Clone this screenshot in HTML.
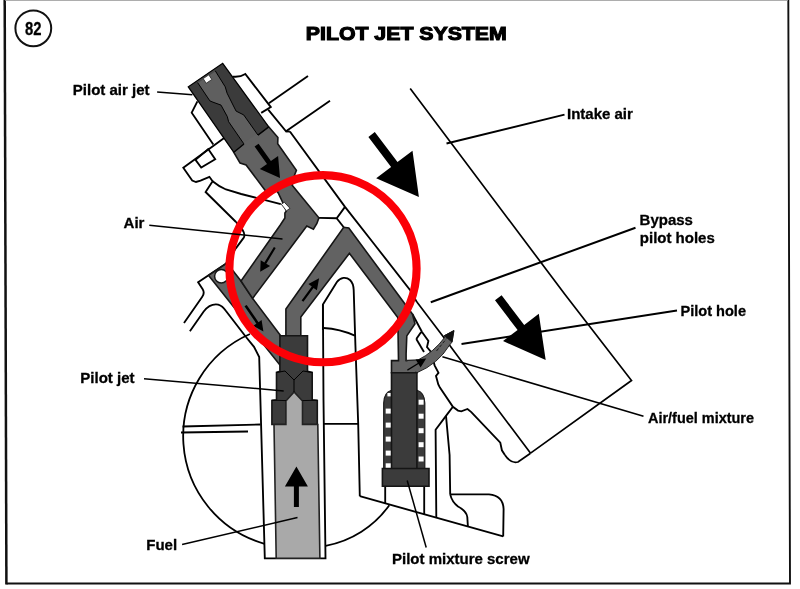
<!DOCTYPE html>
<html lang="en"><head><meta charset="utf-8"><title>Pilot Jet System</title>
<style>
html,body{margin:0;padding:0;background:#fff;}
body{width:800px;height:589px;overflow:hidden;}
svg{display:block;will-change:transform;}
svg text{font-family:"Liberation Sans",sans-serif;font-weight:bold;fill:#000;stroke:#000;stroke-width:0.3px;}
</style></head><body>
<svg width="800" height="589" viewBox="0 0 800 589">
<rect width="800" height="589" fill="#fff"/>
<path d="M6.5,583.5 L790.0,583.5 L788.3,-2.0" fill="none" stroke="#111" stroke-width="1.9" stroke-linejoin="miter" />
<path d="M4.7,-2.0 L6.4,584.4" fill="none" stroke="#111" stroke-width="2.5" stroke-linejoin="miter" />
<line x1="5" y1="0.3" x2="788" y2="0.3" stroke="#999" stroke-width="1"/>
<circle cx="33.3" cy="28.3" r="17.9" fill="#fff" stroke="#111" stroke-width="2"/>
<text x="33.3" y="35" font-size="19" text-anchor="middle" textLength="16.5" lengthAdjust="spacingAndGlyphs">82</text>
<text x="305.8" y="40.2" font-size="19" textLength="201" lengthAdjust="spacingAndGlyphs" style="stroke-width:1.1px">PILOT JET SYSTEM</text>
<path d="M250,334 A111.7,111.7 0 0 0 264.6,543.8" fill="none" stroke="#000" stroke-width="1.8"/>
<path d="M325.6,545.8 A100.5,100.5 0 0 0 389.3,505.2" fill="none" stroke="#000" stroke-width="1.8"/>
<path d="M322.9,330 L322.9,304.4 L336.9,282.1 C340.5,276.8 346.5,276.8 350,280 C352.6,282.4 353.5,285.5 353.7,290 L355.4,345 L358.2,424 L359.8,496.2 L322.9,496.9 Z" fill="#fff" stroke="none"/>
<path d="M322.9,330 L322.9,304.4 L336.9,282.1 C340.5,276.8 346.5,276.8 350,280 C352.6,282.4 353.5,285.5 353.7,290 L355.4,345 L358.2,424 L359.8,496.2" fill="none" stroke="#000" stroke-width="1.85"/>
<path d="M323.6,328 Q340,329 354.8,335.6" fill="none" stroke="#000" stroke-width="1.85"/>
<path d="M323.5,423.9 L358.2,423.9" fill="none" stroke="#000" stroke-width="1.85" stroke-linejoin="miter" />
<path d="M246.0,337.0 L254.0,346.8 L259.2,357.0 L260.4,400.0 L264.8,558.3 L325.5,558.3 L323.5,400.0 L322.9,304.4" fill="none" stroke="#000" stroke-width="1.85" stroke-linejoin="miter" />
<path d="M182.5,426.5 L260.5,424.5" fill="none" stroke="#000" stroke-width="1.85" stroke-linejoin="miter" />
<path d="M181.0,432.5 L248.0,431.5" fill="none" stroke="#000" stroke-width="1.85" stroke-linejoin="miter" />
<path d="M359.8,496.2 L503.2,536.4" fill="none" stroke="#000" stroke-width="1.85" stroke-linejoin="miter" />
<path d="M450.2,494.4 L489,494.4 Q503,495.5 503.6,509 L503.2,536.4" fill="none" stroke="#000" stroke-width="1.85"/>
<path d="M450.2,494.4 Q452,502 458,506.5 Q466.5,511 467.3,517 L467.9,526.5" fill="none" stroke="#000" stroke-width="1.85"/>
<path d="M385.2,486.0 L385.2,503.8" fill="none" stroke="#000" stroke-width="1.85" stroke-linejoin="miter" />
<path d="M424.2,486.0 L424.2,514.5" fill="none" stroke="#000" stroke-width="1.85" stroke-linejoin="miter" />
<path d="M452.9,406.8 L446.0,415.9 L435.6,429.7 L436.3,517.5" fill="none" stroke="#000" stroke-width="1.85" stroke-linejoin="miter" />
<path d="M446.0,415.9 L449.6,455.0 L450.2,494.4" fill="none" stroke="#000" stroke-width="1.85" stroke-linejoin="miter" />
<path d="M422.0,332.0 L428.4,341.0 L427.0,347.0 L431.0,352.0 L434.6,365.3 L438.5,372.9 L436.0,376.0 L438.3,384.5 L439.9,387.6 L452.9,406.8 L458.0,410.6 L461.3,411.3 L467.5,409.0 L471.3,412.1 L500.3,442.7 L501.2,447.0 L501.9,450.3 L504.9,454.9" fill="none" stroke="#000" stroke-width="1.85" stroke-linejoin="miter" />
<path d="M504.9,454.9 Q511,464 518,462 L530.2,453.4" fill="none" stroke="#000" stroke-width="1.8"/>
<path d="M416.3,339.0 L420.5,333.0 L422.0,332.0" fill="none" stroke="#000" stroke-width="1.85" stroke-linejoin="miter" />
<path d="M412.5,314.2 L422.0,332.0" fill="none" stroke="#000" stroke-width="1.85" stroke-linejoin="miter" />
<path d="M416.3,339.0 L424.0,352.0" fill="none" stroke="#000" stroke-width="1.85" stroke-linejoin="miter" />
<path d="M410.2,88.5 L565.0,294.5 L631.5,380.5 L530.2,453.4" fill="none" stroke="#000" stroke-width="1.7" stroke-linejoin="miter" />
<path d="M416.9,302.1 L445.0,339.0 L461.5,361.3 L530.6,453.2" fill="none" stroke="#000" stroke-width="1.7" stroke-linejoin="miter" />
<path d="M289.9,131.5 L345.0,206.9 L374.9,245.0 L410.0,289.9 L416.9,302.1" fill="none" stroke="#000" stroke-width="1.85" stroke-linejoin="miter" />
<path d="M318.9,217.8 L336.7,218.2 L345.0,206.9" fill="none" stroke="#000" stroke-width="1.85" stroke-linejoin="miter" />
<path d="M336.7,218.2 L343.7,227.3" fill="none" stroke="#000" stroke-width="1.85" stroke-linejoin="miter" />
<path d="M232.5,76.6 Q240,77.5 245.3,74 L270.8,107.1 L261.2,112.9" fill="#fff" stroke="#000" stroke-width="1.85"/>
<path d="M268.9,103.3 L308.0,75.9" fill="none" stroke="#000" stroke-width="1.85" stroke-linejoin="miter" />
<path d="M268.2,109.7 L286.0,131.3 L330.0,100.8" fill="none" stroke="#000" stroke-width="1.85" stroke-linejoin="miter" />
<path d="M286.1,131.5 L289.9,131.5" fill="none" stroke="#000" stroke-width="1.85" stroke-linejoin="miter" />
<path d="M197.4,101.3 L191.7,112.7 L213.3,144.6" fill="none" stroke="#000" stroke-width="1.85" stroke-linejoin="miter" />
<path d="M224.5,137.8 L183.3,167.8 L192.2,180.6 L196.0,182.0 L200.5,180.6 L209.4,176.8 L212.6,181.2 L205.6,192.0 L236.0,222.0" fill="none" stroke="#000" stroke-width="1.85" stroke-linejoin="miter" />
<path d="M236,222 Q247,233 243.6,237.9 L236,248.1 L225.8,263.8 L198.1,282.2 L202.7,289.3 Q205,293 202.1,297 L184,323" fill="none" stroke="#000" stroke-width="1.85"/>
<path d="M208.2,149.0 L215.2,159.2 L201.2,167.5 L195.5,159.9 Z" fill="none" stroke="#000" stroke-width="1.85" stroke-linejoin="miter" />
<path d="M212.6,181.2 Q219,186.5 226,189.5 L241.2,194 L256.5,197.8 L280.8,204.2" fill="none" stroke="#000" stroke-width="1.85"/>
<path d="M189.9,331.3 L203.7,311.5 Q210,303.2 218.2,304.6 Q222.5,305.8 225.8,310.7 L246,337" fill="none" stroke="#000" stroke-width="1.85"/>
<path d="M208.6,275.4 L227.0,263.0 L241.0,281.0 L252.6,298.4 L280.7,335.7 L280.7,366.0 Z" fill="#626262" stroke="#151515" stroke-width="1.6" stroke-linejoin="miter" />
<circle cx="221.3" cy="276.3" r="6.7" fill="#fff" stroke="#151515" stroke-width="1.5"/>
<path d="M233.7,152.2 L243.9,143.9 L257.9,135.0 L268.7,126.8 L277.9,137.5 L277.7,143.8 L296.4,170.3 L294.5,175.2 L292.2,185.2 L318.9,217.8 L316.9,223.5 L313.4,229.2 L306.8,226.1 L252.6,298.4 L241.0,281.0 L280.3,225.0 L284.9,218.0 L284.9,212.9 L286.4,210.9 L282.8,202.7 L278.2,193.0 L276.5,190.5 L268.5,195.0 L264.5,189.5 L246.1,165.0 L240.1,163.1 Z" fill="#626262" stroke="#151515" stroke-width="1.6" stroke-linejoin="miter" />
<path d="M281.3,204.2 L284.3,202.2 L290.0,208.3 L286.4,210.9 Z" fill="#fff" stroke="#222" stroke-width="0.9" stroke-linejoin="miter" />
<path d="M188.3,86.8 L222.7,63.3 L268.7,126.8 L257.9,135.0 L243.9,143.9 L233.7,152.2 Z" fill="#3b3b3b" stroke="none" stroke-width="0" stroke-linejoin="miter" />
<path d="M197.6,82.6 L209.9,100.9 L213.0,102.2 L221.0,105.1 L227.3,116.6 L228.6,121.7 L243.9,143.9 L257.9,135.0 L243.7,114.9 L236.1,111.1 L233.5,106.0 L227.1,93.2 L225.2,86.8 L215.2,70.7 Z" fill="#5f5f5f" stroke="none" stroke-width="0" stroke-linejoin="miter" />
<path d="M196.5,81.0 L214.2,69.2 L215.6,71.3 L197.9,83.1 Z" fill="#4a4a4a" stroke="none" stroke-width="0" stroke-linejoin="miter" />
<path d="M243.2,142.9 L257.2,134.0 L259.1,136.8 L245.1,145.7 Z" fill="#626262" stroke="none" stroke-width="0" stroke-linejoin="miter" />
<path d="M197.6,82.6 L209.9,100.9 L213.0,102.2 L221.0,105.1 L227.3,116.6 L228.6,121.7 L243.9,143.9" fill="none" stroke="#000" stroke-width="1.0" stroke-linejoin="miter" />
<path d="M215.2,70.7 L225.2,86.8 L227.1,93.2 L233.5,106.0 L236.1,111.1 L243.7,114.9 L257.9,135.0" fill="none" stroke="#000" stroke-width="1.0" stroke-linejoin="miter" />
<path d="M233.7,152.2 L243.9,143.9" fill="none" stroke="#000" stroke-width="1.1" stroke-linejoin="miter" />
<path d="M257.9,135.0 L268.7,126.8" fill="none" stroke="#000" stroke-width="1.1" stroke-linejoin="miter" />
<path d="M233.7,152.2 L188.3,86.8 L222.7,63.3 L268.7,126.8" fill="none" stroke="#000" stroke-width="1.3" stroke-linejoin="miter" />
<path d="M203.2,78.6 L208.8,74.8 L211.8,79.5 L206.2,83.3 Z" fill="#fff" stroke="#222" stroke-width="0.8" stroke-linejoin="miter" />
<path d="M285.9,340.0 L285.9,309.0 L343.7,227.3 L348.8,228.0 L412.5,314.2 L415.0,323.8 L406.8,335.9 L406.1,353.7 L406.1,360.6 L416.9,360.6 L416.9,372.7 L391.5,372.7 L391.5,360.6 L398.5,360.6 L397.8,317.4 L349.4,253.3 L300.8,317.1 L300.8,340.0 Z" fill="#626262" stroke="#151515" stroke-width="1.6" stroke-linejoin="miter" />
<path d="M406.1,360.6 L418.2,359.9 Q434,352 445,337 L444.3,335.7 L453.9,330.6 L452,342.1 L449.4,345.3 Q438,364 416.9,372.7 Z" fill="#626262" stroke="#222" stroke-width="1"/>
<path d="M444.3,335.7 L453.9,330.6 L452.0,342.1 Z" fill="#111" stroke="#111" stroke-width="0.8" stroke-linejoin="miter" />
<path d="M403.0,361.7 L418.6,361.2 L421.5,363.5 L417.6,371.5 L403.0,371.5 Z" fill="#626262" stroke="none" stroke-width="0" stroke-linejoin="miter" />
<path d="M436.5,351 L446.6,338.5" stroke="#1a1a1a" stroke-width="1" stroke-dasharray="3.2 1.8" fill="none"/>
<path d="M279.9,335.7 L307.5,335.7 L307.5,371.3 L312.2,372.4 L312.2,399.7 L317.3,400.5 L317.3,424.5 L271.9,424.5 L271.9,400.5 L276.5,399.7 L276.5,372.4 L279.9,371.3 Z" fill="#3b3b3b" stroke="#151515" stroke-width="1.6" stroke-linejoin="miter" />
<path d="M274.0,424.5 L285.9,424.5 L285.9,401.0 L294.1,392.0 L302.5,401.0 L302.5,424.5 L317.8,424.5 L319.9,558.3 L276.2,558.3 Z" fill="#a9a9a9" stroke="#222" stroke-width="1.6" stroke-linejoin="miter" />
<path d="M276.5,372.5 L285.0,371.0 L294.0,380.0 L303.0,371.0 L312.2,372.5" fill="none" stroke="#000" stroke-width="1.0" stroke-linejoin="miter" />
<path d="M294.0,380.0 L294.0,392.0" fill="none" stroke="#000" stroke-width="1.0" stroke-linejoin="miter" />
<path d="M271.9,400.2 L286.0,400.6" fill="none" stroke="#000" stroke-width="0.9" stroke-linejoin="miter" />
<path d="M302.4,400.6 L317.3,400.2" fill="none" stroke="#000" stroke-width="0.9" stroke-linejoin="miter" />
<path d="M383.7,469 L383.7,403 Q383.9,392.5 391.5,390.2 L417,390.2 Q424.6,392.5 424.8,403 L424.8,469 Z" fill="#3b3b3b" stroke="#1a1a1a" stroke-width="1.2"/>
<path d="M391.5,372.7 L416.9,372.7 L416.9,469.7 L391.5,469.7 Z" fill="#3b3b3b" stroke="#151515" stroke-width="1.6" stroke-linejoin="miter" />
<rect x="387.4" y="393" width="3.2" height="3.4" fill="#fff"/>
<rect x="385.7" y="408.6" width="5" height="5" fill="#fff"/>
<rect x="385.7" y="422.6" width="5" height="5" fill="#fff"/>
<rect x="385.7" y="436.6" width="5" height="5" fill="#fff"/>
<rect x="385.7" y="450.6" width="5" height="5" fill="#fff"/>
<rect x="385.7" y="463.3" width="5" height="5" fill="#fff"/>
<rect x="418.6" y="399.7" width="5" height="5" fill="#fff"/>
<rect x="418.6" y="413.7" width="5" height="5" fill="#fff"/>
<rect x="418.6" y="428.2" width="5" height="5" fill="#fff"/>
<rect x="418.6" y="442.2" width="5" height="5" fill="#fff"/>
<rect x="418.6" y="456.5" width="5" height="5" fill="#fff"/>
<path d="M382.4,468.5 L429.0,468.5 L429.0,486.3 L382.4,486.3 Z" fill="#3b3b3b" stroke="#151515" stroke-width="1.6" stroke-linejoin="miter" />
<path d="M254.6,146.6 L267.0,163.9 L259.8,169.1 L280.0,178.0 L278.1,156.0 L270.9,161.1 L258.6,143.8 Z" fill="#000" stroke="none" stroke-width="0" stroke-linejoin="miter" />
<path d="M273.9,246.9 L264.4,262.6 L260.7,260.3 L260.2,271.7 L270.1,266.0 L266.3,263.7 L275.7,248.1 Z" fill="#000" stroke="none" stroke-width="0" stroke-linejoin="miter" />
<path d="M244.5,306.3 L256.4,323.7 L253.3,325.8 L263.4,331.6 L261.6,320.1 L258.5,322.2 L246.7,304.9 Z" fill="#000" stroke="none" stroke-width="0" stroke-linejoin="miter" />
<path d="M303.4,301.8 L313.5,287.9 L316.9,290.3 L319.1,278.3 L308.4,284.1 L311.8,286.6 L301.6,300.6 Z" fill="#000" stroke="none" stroke-width="0" stroke-linejoin="miter" />
<path d="M298.9,507.0 L298.9,486.5 L307.9,486.5 L296.4,466.5 L284.9,486.5 L293.9,486.5 L293.9,507.0 Z" fill="#000" stroke="none" stroke-width="0" stroke-linejoin="miter" />
<path d="M407.7,370.7 L418.5,364.0 L420.6,367.5 L426.2,358.5 L415.6,359.4 L417.8,362.9 L407.1,369.5 Z" fill="#000" stroke="none" stroke-width="0" stroke-linejoin="miter" />
<circle cx="323" cy="268.7" r="93.6" fill="none" stroke="#fb0007" stroke-width="8.1"/>
<path d="M368.4,136.9 L391.1,167.0 L376.2,178.3 L418.9,197.1 L412.5,150.8 L397.5,162.1 L374.8,132.1 Z" fill="#000" stroke="none" stroke-width="0" stroke-linejoin="miter" />
<path d="M495.0,300.3 L517.6,330.0 L503.0,341.1 L545.7,360.1 L538.8,313.8 L524.2,325.0 L501.6,295.3 Z" fill="#000" stroke="none" stroke-width="0" stroke-linejoin="miter" />
<path d="M157.1,91.9 L192.4,94.8" fill="none" stroke="#000" stroke-width="1.5" stroke-linejoin="miter" />
<path d="M149.3,225.3 L282.5,239.0" fill="none" stroke="#000" stroke-width="1.5" stroke-linejoin="miter" />
<path d="M144.0,378.7 L283.7,390.9" fill="none" stroke="#000" stroke-width="1.5" stroke-linejoin="miter" />
<path d="M182.1,544.6 L297.5,517.5" fill="none" stroke="#000" stroke-width="1.5" stroke-linejoin="miter" />
<path d="M407.2,480.5 L426.2,547.5" fill="none" stroke="#000" stroke-width="1.5" stroke-linejoin="miter" />
<path d="M446.5,143.5 L564.5,114.6" fill="none" stroke="#000" stroke-width="2.0" stroke-linejoin="miter" />
<path d="M430.8,302.2 L635.5,227.8" fill="none" stroke="#000" stroke-width="2.0" stroke-linejoin="miter" />
<path d="M461.5,344.0 L677.0,310.5" fill="none" stroke="#000" stroke-width="2.0" stroke-linejoin="miter" />
<path d="M442.4,356.8 L643.5,416.2" fill="none" stroke="#000" stroke-width="1.6" stroke-linejoin="miter" />
<text x="72.8" y="94.6" font-size="15" >Pilot air jet</text>
<text x="123.6" y="228" font-size="15" >Air</text>
<text x="80.3" y="383.1" font-size="15" >Pilot jet</text>
<text x="146.3" y="549.5" font-size="15" >Fuel</text>
<text x="392" y="563.8" font-size="15" >Pilot mixture screw</text>
<text x="567" y="119.1" font-size="15" >Intake air</text>
<text x="639.6" y="224.5" font-size="15" >Bypass</text>
<text x="639.8" y="243.2" font-size="15" >pilot holes</text>
<text x="680.5" y="316.2" font-size="15" textLength="65.5" lengthAdjust="spacingAndGlyphs">Pilot hole</text>
<text x="648" y="423.3" font-size="15" textLength="106" lengthAdjust="spacingAndGlyphs">Air/fuel mixture</text>
</svg>
</body></html>
